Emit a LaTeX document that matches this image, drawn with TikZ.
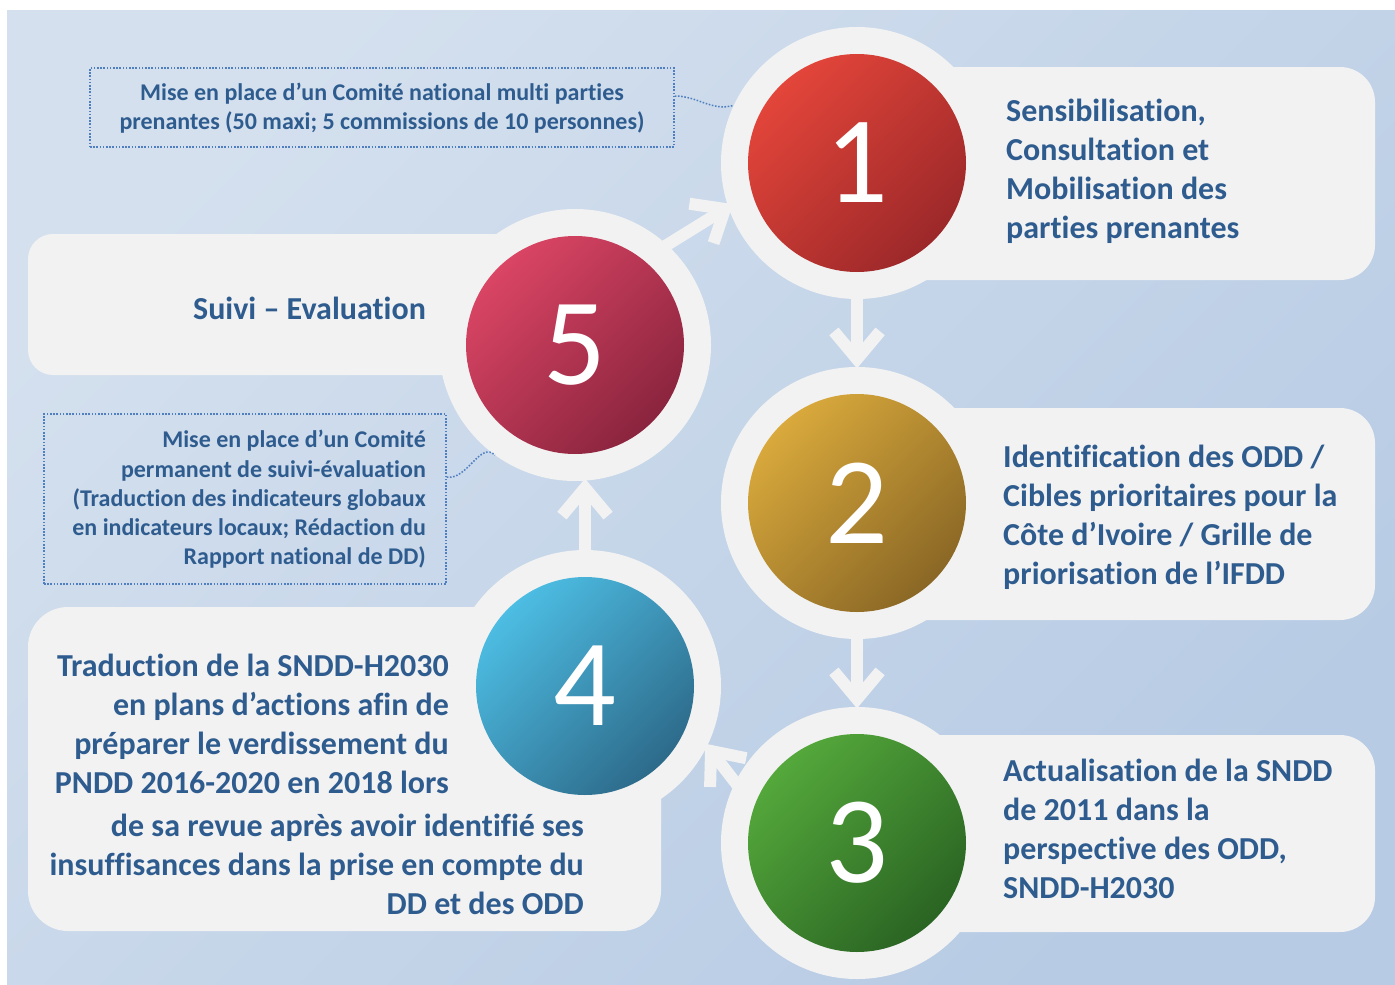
\documentclass[tikz,border=0pt]{standalone}
\usepackage{fontspec}
\setmainfont[Ligatures={NoCommon}]{Carlito}
\definecolor{bgA}{HTML}{D4E0EE}
\definecolor{bgB}{HTML}{B7CBE4}
\definecolor{boxc}{HTML}{F2F2F2}
\definecolor{txtc}{HTML}{2F5C8F}
\definecolor{dotc}{HTML}{4F7FC0}
\definecolor{redA}{HTML}{E3453A}\definecolor{redB}{HTML}{9C2829}
\definecolor{golA}{HTML}{D9A93C}\definecolor{golB}{HTML}{8A6725}
\definecolor{grnA}{HTML}{54A83B}\definecolor{grnB}{HTML}{2A6423}
\definecolor{bluA}{HTML}{4DBDE3}\definecolor{bluB}{HTML}{2D6A8A}
\definecolor{pnkA}{HTML}{DA4564}\definecolor{pnkB}{HTML}{8A243E}
\tikzset{
  panel/.style={fill=boxc, draw=none, inner sep=0pt, rounded corners=#1},
  ring/.style={circle, fill=boxc, minimum size=272pt, inner sep=0pt},
  disc/.style 2 args={circle, top color=#1, bottom color=#2, shading angle=45, minimum size=218pt, inner sep=0pt,
     text=white, font=\fontsize{124}{124}\selectfont},
  bigtxt/.style={text=txtc, inner sep=0pt, font=\bfseries\fontsize{32}{39}\selectfont},
  smalltxt/.style={text=txtc, inner sep=0pt, font=\bfseries\fontsize{24}{29.3}\selectfont},
  dotbox/.style={draw=dotc, line width=1.5pt, dash pattern=on 1.6pt off 1.6pt, inner sep=0pt},
  dotline/.style={draw=dotc, line width=1.5pt, dash pattern=on 1.6pt off 1.6pt},
  arrowline/.style={draw=boxc, line width=12pt, line cap=butt, line join=miter},
  pics/chevron/.style={code={\draw[arrowline] (-27.6pt,23.1pt) -- (0pt,0pt) -- (-27.6pt,-23.1pt);}}
}
\begin{document}
\begin{tikzpicture}[x=1pt,y=-1pt]
\useasboundingbox (0,0) rectangle (1395,985);
\fill[white] (0,0) rectangle (1395,985);
\shade[top color=bgA, bottom color=bgB, shading angle=45] (7,10) rectangle (1395,985);

% panels
\node[panel=35pt, minimum width=535pt, minimum height=213pt] (p1) at (1107.5,173.5) {};
\node[panel=35pt, minimum width=535pt, minimum height=212pt] (p2) at (1107.5,514) {};
\node[panel=35pt, minimum width=535pt, minimum height=197pt] (p3) at (1107.5,833.5) {};
\node[panel=25pt, minimum width=532pt, minimum height=141pt] (p5) at (294,304.5) {};
\node[panel=40pt, minimum width=633pt, minimum height=324pt] (p4) at (344.5,769) {};

% arrow anchor coordinates
\coordinate (a12s) at (857,295); \coordinate (a12t) at (857,359);
\coordinate (a23s) at (857,635); \coordinate (a23t) at (857,699);
\coordinate (a45s) at (585,552); \coordinate (a45t) at (585,488);
\coordinate (a51s) at (662,248); \coordinate (a51t) at (725,209);
\coordinate (a34s) at (745,795); \coordinate (a34t) at (711,751);

% rings
\node[ring] (r1) at (857,163) {};
\node[ring] (r2) at (857,503) {};
\node[ring] (r3) at (857,843) {};
\node[ring] (r4) at (585,686) {};
\node[ring] (r5) at (575,345) {};

% arrows
\draw[arrowline] (a12s) -- (a12t); \pic[rotate=-90] at (a12t) {chevron};
\draw[arrowline] (a23s) -- (a23t); \pic[rotate=-90] at (a23t) {chevron};
\draw[arrowline] (a45s) -- (a45t); \pic[rotate=90] at (a45t) {chevron};
\draw[arrowline] (a51s) -- (a51t); \pic[rotate=31.5] at (a51t) {chevron};
\draw[arrowline] (a34s) -- (a34t); \pic[rotate=128.5] at (a34t) {chevron};

% discs
\node[disc={redA}{redB}] (c1) at (857,163) {1};
\node[disc={golA}{golB}] (c2) at (857,503) {2};
\node[disc={grnA}{grnB}] (c3) at (857,843) {3};
\node[disc={bluA}{bluB}] (c4) at (585,686) {4};
\node[disc={pnkA}{pnkB}] (c5) at (575,345) {5};

% texts
\node[bigtxt, anchor=west, align=left] (t1) at (1006,171.5)
  {Sensibilisation,\\Consultation et\\Mobilisation des\\parties prenantes};
\node[bigtxt, anchor=west, align=left] (t2) at (1003,517.5)
  {Identification des ODD /\\Cibles prioritaires pour la\\Côte d’Ivoire / Grille de\\priorisation de l’IFDD};
\node[bigtxt, anchor=west, align=left] (t3) at (1003,828.5)
  {Actualisation de la SNDD\\de 2011 dans la\\perspective des ODD,\\SNDD-H2030};
\node[bigtxt, anchor=east] (t5) at (426,308) {Suivi – Evaluation};
\node[bigtxt, anchor=east, align=right] (t4a) at (449,723.5)
  {Traduction de la SNDD-H2030\\en plans d’actions afin de\\préparer le verdissement du\\PNDD 2016-2020 en 2018 lors};
\node[bigtxt, anchor=east, align=right] (t4b) at (584,864.5)
  {de sa revue après avoir identifié ses\\insuffisances dans la prise en compte du\\DD et des ODD};

% dotted note boxes
\node[dotbox, minimum width=584pt, minimum height=79pt] (n1) at (382,107.5) {};
\node[smalltxt, align=center] (n1t) at (382,108.5)
  {Mise en place d’un Comité national multi parties\\prenantes (50 maxi; 5 commissions de 10 personnes)};
\node[dotbox, minimum width=402pt, minimum height=170pt] (n2) at (245,499) {};
\node[smalltxt, anchor=east, align=right] (n2t) at (426,499.5)
  {Mise en place d’un Comité\\permanent de suivi-évaluation\\(Traduction des indicateurs globaux\\en indicateurs locaux; Rédaction du\\Rapport national de DD)};
\draw[dotline] (n1.east |- 0,96) to[out=0,in=195] (r1.155);
\draw[dotline] (n2.east |- 0,477) to[out=-10,in=135] (r5.234);
\end{tikzpicture}
\end{document}
